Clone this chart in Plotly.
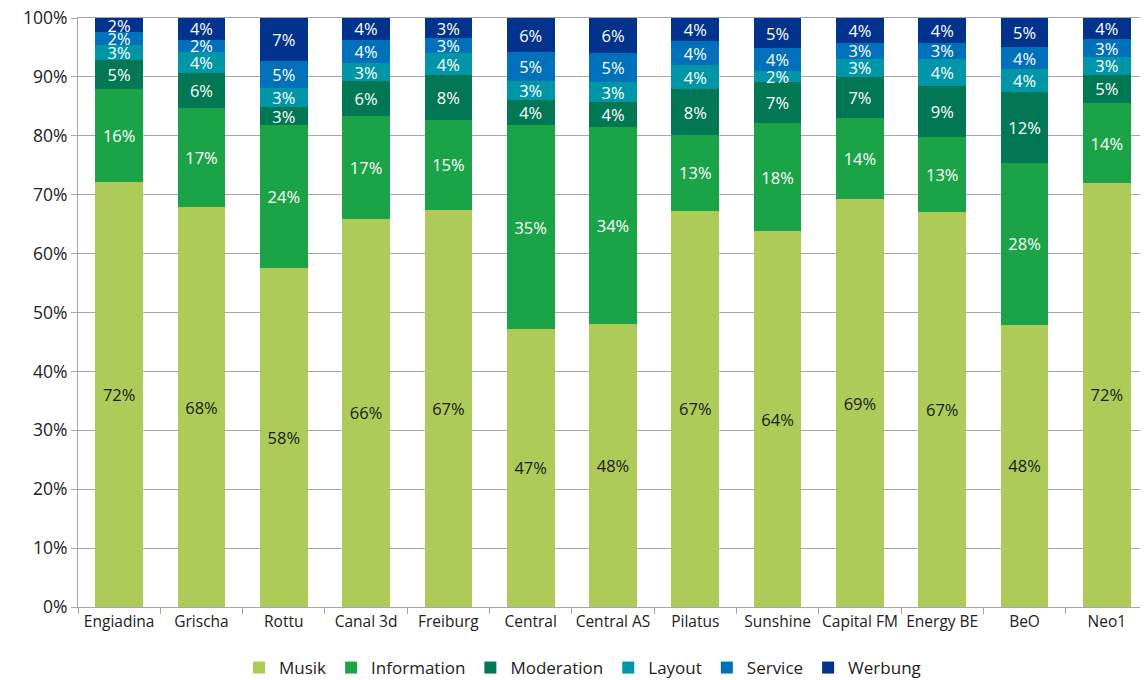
import plotly.graph_objects as go

categories = ["Engiadina", "Grischa", "Rottu", "Canal 3d", "Freiburg", "Central", "Central AS",
              "Pilatus", "Sunshine", "Capital FM", "Energy BE", "BeO", "Neo1"]

musik       = [72.2, 67.9, 57.6, 65.9, 67.4, 47.2, 48.0, 67.3, 63.8, 69.2, 67.1, 47.9, 72.0]
information = [15.7, 16.8, 24.2, 17.4, 15.3, 34.6, 33.5, 12.8, 18.3, 13.8, 12.7, 27.5, 13.5]
moderation  = [4.9, 6.0, 3.1, 6.0, 7.6, 4.2, 4.2, 7.8, 7.0, 7.0, 8.7, 12.1, 4.9]
layout_     = [2.7, 3.6, 3.2, 3.0, 3.7, 3.3, 3.4, 4.1, 1.9, 3.1, 4.5, 3.8, 3.0]
service     = [2.1, 2.0, 4.6, 4.0, 2.6, 4.9, 4.9, 4.1, 3.9, 2.6, 2.8, 3.8, 3.0]
werbung     = [2.4, 3.7, 7.3, 3.7, 3.4, 5.8, 6.0, 3.9, 5.1, 4.4, 4.2, 4.9, 3.6]

series = [
    ("Musik", musik, "#AECB5A", "#1a1a1a"),
    ("Information", information, "#1BA348", "white"),
    ("Moderation", moderation, "#017754", "white"),
    ("Layout", layout_, "#0096A8", "white"),
    ("Service", service, "#0070BA", "white"),
    ("Werbung", werbung, "#01338C", "white"),
]

FONT = "'Open Sans', 'Noto Sans', sans-serif"

fig = go.Figure()
for name, vals, color, tcolor in series:
    fig.add_trace(go.Bar(
        name=name, x=categories, y=vals,
        marker=dict(color=color, line=dict(width=0)),
        text=[f"{round(v):.0f}%" for v in vals],
        textposition="inside", insidetextanchor="middle", textangle=0,
        constraintext="none",
        textfont=dict(color=tcolor, size=16.5, family=FONT),
        hoverinfo="skip",
    ))

# page has an 8px body margin, so the figure is sized/offset to compensate
fig.update_layout(
    barmode="stack",
    bargap=0.42,
    width=1140, height=672,
    margin=dict(l=70, r=0, t=10, b=73, autoexpand=False),
    plot_bgcolor="white", paper_bgcolor="white",
    font=dict(family=FONT, size=15, color="#222222"),
    uniformtext=dict(minsize=16, mode="show"),
    legend=dict(orientation="h", x=0.4715, xanchor="center", y=-0.1036, yanchor="middle",
                font=dict(size=17, color="#222222"), itemwidth=30, traceorder="normal"),
    showlegend=True,
)
fig.update_yaxes(range=[0, 100], dtick=10, ticksuffix="%", showgrid=True,
                 gridcolor="#a6a6a6", gridwidth=1, showline=True, linecolor="#a6a6a6",
                 ticks="outside", ticklen=6, tickcolor="#a6a6a6", automargin=False,
                 ticklabeloverflow="allow",
                 tickfont=dict(size=17.5, color="#222222"), zeroline=False)
fig.update_xaxes(showline=True, linecolor="#a6a6a6", mirror=True, ticks="outside",
                 tickson="boundaries", ticklen=6, tickcolor="#a6a6a6", automargin=False,
                 tickangle=0, ticklabeloverflow="allow",
                 tickfont=dict(size=15.5, color="#222222"))

fig.write_html("out.html")
